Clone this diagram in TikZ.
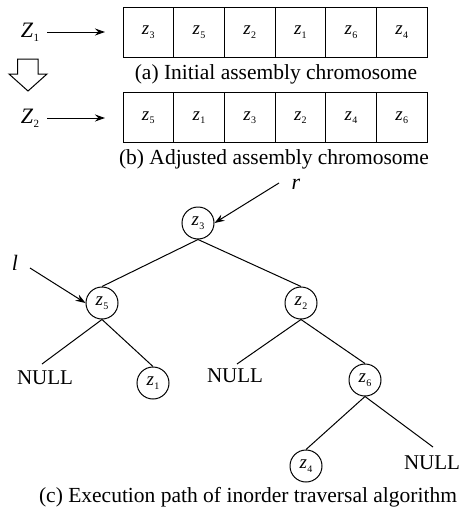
\documentclass[tikz,border=0pt]{standalone}
\usepackage{fontspec}
\setmainfont{Liberation Serif}
\usetikzlibrary{arrows.meta}
\newcommand{\zv}[2][z]{\textit{#1}\kern0.3pt\raisebox{-0.4ex}{\fontsize{10}{10}\selectfont #2}}
\newcommand{\Zv}[1]{\textit{Z}\kern0.3pt\raisebox{-0.4ex}{\fontsize{11}{11}\selectfont #1}}
\begin{document}
\begin{tikzpicture}[x=1pt,y=-1pt,
  cell/.style={draw,line width=1pt,minimum width=50.67pt,minimum height=50pt,inner sep=0pt,font=\fontsize{19}{19}\selectfont},
  tnode/.style={draw,circle,line width=1pt,minimum size=32pt,inner sep=0pt,font=\fontsize{19}{19}\selectfont},
  captext/.style={font=\fontsize{21.5}{21.5}\selectfont},
  nul/.style={font=\fontsize{21}{21}\selectfont,inner sep=1pt},
  treeline/.style={line width=1pt},
  arr/.style={line width=1pt,-{Stealth[length=10pt,width=7pt]}}]
\useasboundingbox (0,0) rectangle (463,509);
% arrays
\foreach \v [count=\i from 0] in {3,5,2,1,6,4}
  \node[cell] (a\i) at ({123+50.67*(\i+0.5)},32) {\zv{\v}};
\foreach \v [count=\i from 0] in {5,1,3,2,4,6}
  \node[cell] (b\i) at ({123+50.67*(\i+0.5)},117.5) {\zv{\v}};
\node[captext] (capa) at (276,74) {(a) Initial assembly chromosome};
\node[captext] (capb) at (274,159) {(b) Adjusted assembly chromosome};
\node[font=\fontsize{22}{22}\selectfont] (Z1) at (30,32) {\Zv{1}};
\node[font=\fontsize{22}{22}\selectfont] (Z2) at (30,118) {\Zv{2}};
\coordinate (pa) at (105,32);
\coordinate (pb) at (105,118);
\coordinate (sa) at (47,32);
\coordinate (sb) at (47,118);
\draw[arr] (sa) -- (pa);
\draw[arr] (sb) -- (pb);
% hollow arrow
\draw[line width=1pt,line join=miter] (17.5,59) -- (38,59) -- (38,74) -- (47,74) -- (28,91) -- (9,74) -- (17.5,74) -- cycle;
% tree
\node[tnode] (z3) at (198,223) {\zv{3}};
\node[tnode] (z5) at (102,303) {\zv{5}};
\node[tnode] (z2) at (301,303) {\zv{2}};
\node[tnode] (z1) at (153,383) {\zv{1}};
\node[tnode] (z6) at (365,380) {\zv{6}};
\node[tnode] (z4) at (306,466) {\zv{4}};
\node[nul] (n1) at (45,378) {NULL};
\node[nul] (n2) at (235,376) {NULL};
\node[nul] (n3) at (432,463) {NULL};
\coordinate (e1) at (42,364);
\coordinate (e2) at (237,364);
\coordinate (e3) at (433,447);
\draw[treeline] (z3.south) -- (z5.north);
\draw[treeline] (z3.south) -- (z2.north);
\draw[treeline] (z5.south) -- (e1);
\draw[treeline] (z5.south) -- (z1.north);
\draw[treeline] (z2.south) -- (e2);
\draw[treeline] (z2.south) -- (z6.north);
\draw[treeline] (z6.south) -- (z4.north);
\draw[treeline] (z6.south) -- (e3);
\node[font=\fontsize{22}{22}\selectfont\itshape] (r) at (296,184) {r};
\node[font=\fontsize{22}{22}\selectfont\itshape] (l) at (15,263) {l};
\coordinate (rs) at (279,183);
\coordinate (ls) at (30,268);
\draw[arr] (rs) -- (z3.east);
\draw[arr] (ls) -- (z5.west);
\node[captext] (capc) at (248,497) {(c) Execution path of inorder traversal algorithm};
\end{tikzpicture}
\end{document}
